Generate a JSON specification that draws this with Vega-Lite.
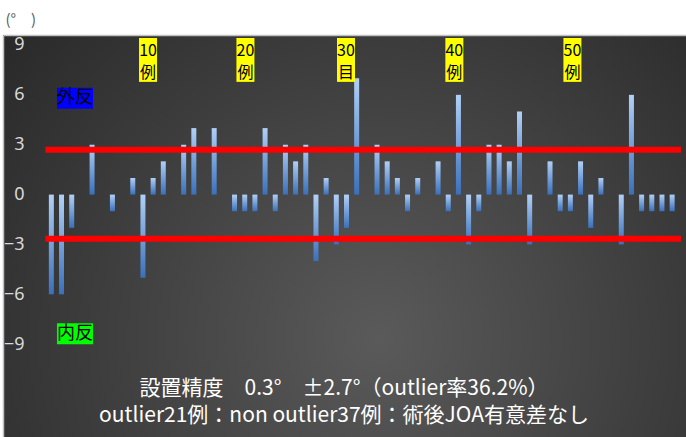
{
  "$schema": "https://vega.github.io/schema/vega-lite/v6.json",
  "autosize": "none",
  "width": 683,
  "height": 402,
  "padding": {"left": 3, "top": 35, "right": 0, "bottom": 0},
  "background": "#ffffff",
  "config": {
    "font": "Noto Sans CJK JP",
    "view": {
      "stroke": null,
      "fill": {"gradient": "radial", "x1": 0.55, "y1": 0.65, "x2": 0.55, "y2": 0.65, "r1": 0, "r2": 0.75,
        "stops": [{"offset": 0, "color": "#5a5a5a"}, {"offset": 1, "color": "#262626"}]}
    },
    "axisY": {
      "grid": false, "domain": true, "domainColor": "#c0c0c0", "domainWidth": 1.5,
      "ticks": false, "tickSize": 0, "labelPadding": -21, "labelColor": "#d9d9d9",
      "labelFontSize": 18, "labelFont": "Noto Sans",
      "titleAngle": 0, "titleX": 2, "titleY": -16, "titleAlign": "left", "titleBaseline": "middle",
      "titleColor": "#5a5a5a", "titleFontSize": 15, "titleFontWeight": "normal", "titleFont": "Noto Sans CJK JP"
    }
  },
  "datasets": {
    "cases": [
      {"case": 1, "angle": -6}, {"case": 2, "angle": -6}, {"case": 3, "angle": -2}, {"case": 4, "angle": 0},
      {"case": 5, "angle": 3}, {"case": 6, "angle": 0}, {"case": 7, "angle": -1}, {"case": 8, "angle": 0},
      {"case": 9, "angle": 1}, {"case": 10, "angle": -5}, {"case": 11, "angle": 1}, {"case": 12, "angle": 2},
      {"case": 13, "angle": 0}, {"case": 14, "angle": 3}, {"case": 15, "angle": 4}, {"case": 16, "angle": 0},
      {"case": 17, "angle": 4}, {"case": 18, "angle": 0}, {"case": 19, "angle": -1}, {"case": 20, "angle": -1},
      {"case": 21, "angle": -1}, {"case": 22, "angle": 4}, {"case": 23, "angle": -1}, {"case": 24, "angle": 3},
      {"case": 25, "angle": 2}, {"case": 26, "angle": 3}, {"case": 27, "angle": -4}, {"case": 28, "angle": 1},
      {"case": 29, "angle": -3}, {"case": 30, "angle": -2}, {"case": 31, "angle": 7}, {"case": 32, "angle": 0},
      {"case": 33, "angle": 3}, {"case": 34, "angle": 2}, {"case": 35, "angle": 1}, {"case": 36, "angle": -1},
      {"case": 37, "angle": 1}, {"case": 38, "angle": 0}, {"case": 39, "angle": 2}, {"case": 40, "angle": -1},
      {"case": 41, "angle": 6}, {"case": 42, "angle": -3}, {"case": 43, "angle": -1}, {"case": 44, "angle": 3},
      {"case": 45, "angle": 3}, {"case": 46, "angle": 2}, {"case": 47, "angle": 5}, {"case": 48, "angle": -3},
      {"case": 49, "angle": 0}, {"case": 50, "angle": 2}, {"case": 51, "angle": -1}, {"case": 52, "angle": -1},
      {"case": 53, "angle": 2}, {"case": 54, "angle": -2}, {"case": 55, "angle": 1}, {"case": 56, "angle": 0},
      {"case": 57, "angle": -3}, {"case": 58, "angle": 6}, {"case": 59, "angle": -1}, {"case": 60, "angle": -1},
      {"case": 61, "angle": -1}, {"case": 62, "angle": -1}
    ],
    "limits": [{"limit": "upper", "deg": 2.7}, {"limit": "lower", "deg": -2.65}],
    "milestones": [
      {"label": ["10", "例"], "pos": 10.5},
      {"label": ["20", "例"], "pos": 20.07},
      {"label": ["30", "目"], "pos": 29.95},
      {"label": ["40", "例"], "pos": 40.6},
      {"label": ["50", "例"], "pos": 52.2}
    ],
    "zones": [
      {"zone": "外反", "pos": 3.32, "top": 6.42, "bottom": 5.16, "mid": 5.79},
      {"zone": "内反", "pos": 3.32, "top": -7.74, "bottom": -9.0, "mid": -8.37}
    ]
  },
  "layer": [
    {
      "data": {"name": "cases"},
      "mark": {"type": "bar", "width": 5,
        "color": {"gradient": "linear", "x1": 0, "y1": 0, "x2": 0, "y2": 1,
          "stops": [{"offset": 0, "color": "#b0d0f7"}, {"offset": 1, "color": "#3a70bb"}]}},
      "encoding": {
        "x": {"field": "case", "type": "quantitative",
          "scale": {"domain": [-3.26, 62.87], "nice": false, "zero": false},
          "axis": {"orient": "top", "labels": false, "ticks": false, "grid": false, "title": null,
            "domainColor": "#c0c0c0", "domainWidth": 1.5}},
        "y": {"field": "angle", "type": "quantitative",
          "scale": {"domain": [-14.58, 9.6], "nice": false, "zero": false},
          "axis": {"values": [-9, -6, -3, 0, 3, 6, 9], "title": "(°　)", "labelFontSize": 18}}
      }
    },
    {
      "data": {"name": "limits"},
      "mark": {"type": "rule", "color": "#ff0000", "strokeWidth": 6},
      "encoding": {
        "y": {"field": "deg", "type": "quantitative", "title": "(°　)"},
        "x": {"datum": 0.42},
        "x2": {"datum": 62.87}
      }
    },
    {
      "data": {"name": "milestones"},
      "mark": {"type": "bar", "width": 18, "color": "#ffff00"},
      "encoding": {
        "x": {"field": "pos", "type": "quantitative", "title": null},
        "y": {"datum": 9.42},
        "y2": {"datum": 6.78}
      }
    },
    {
      "data": {"name": "milestones"},
      "mark": {"type": "text", "color": "#000000", "fontSize": 16, "lineHeight": 22, "baseline": "middle", "align": "center", "font": "Noto Sans CJK JP"},
      "encoding": {
        "x": {"field": "pos", "type": "quantitative", "title": null},
        "y": {"datum": 8.62},
        "text": {"field": "label"}
      }
    },
    {
      "data": {"name": "zones"},
      "mark": {"type": "bar", "width": 36},
      "encoding": {
        "x": {"field": "pos", "type": "quantitative", "title": null},
        "y": {"field": "top", "type": "quantitative", "title": "(°　)"},
        "y2": {"field": "bottom"},
        "color": {"field": "zone", "type": "nominal", "legend": null,
          "scale": {"domain": ["外反", "内反"], "range": ["#0000ff", "#00ff00"]}}
      }
    },
    {
      "data": {"name": "zones"},
      "mark": {"type": "text", "color": "#000000", "fontSize": 18, "baseline": "middle", "align": "center"},
      "encoding": {
        "x": {"field": "pos", "type": "quantitative", "title": null},
        "y": {"field": "mid", "type": "quantitative", "title": "(°　)"},
        "text": {"field": "zone"}
      }
    },
    {
      "data": {"values": [{"caption": ["設置精度　0.3°　±2.7°（outlier率36.2%）", "outlier21例：non outlier37例：術後JOA有意差なし"]}]},
      "mark": {"type": "text", "color": "#ffffff", "fontSize": 21, "lineHeight": 27, "baseline": "middle", "align": "center"},
      "encoding": {
        "x": {"datum": 29.76},
        "y": {"datum": -11.7},
        "text": {"field": "caption"}
      }
    }
  ]
}
